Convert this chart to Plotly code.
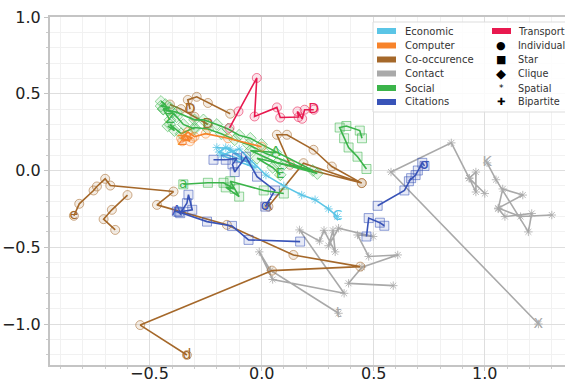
import plotly.graph_objects as go

# ---------------- data ----------------
categories = ["Economic", "Computer", "Co-occurence", "Contact", "Social", "Citations", "Transport"]
colors = {"Economic": "#5bc5e6", "Computer": "#f7832a", "Co-occurence": "#a5682a",
          "Contact": "#a9a9a9", "Social": "#3bb44a", "Citations": "#3853b8",
          "Transport": "#e8194f"}
marker_types = ["Individual", "Star", "Clique", "Spatial", "Bipartite"]
x_tick_values = [-0.5, 0.0, 0.5, 1.0]
x_tick_labels = ["−0.5", "0.0", "0.5", "1.0"]

# Transport (Individual)
transport_x = [-0.143, -0.103, -0.021, -0.031, 0.069, 0.084, 0.166, 0.161, 0.182, 0.193, 0.234]
transport_y = [0.277, 0.385, 0.603, 0.352, 0.411, 0.345, 0.348, 0.385, 0.337, 0.396, 0.396]

# Economic (Spatial)
economic_x = [-0.20, -0.14, -0.05, -0.19, -0.16, -0.03, -0.18, -0.10, 0.02, 0.10, 0.18, 0.24, 0.30, 0.34]
economic_y = [0.15, 0.14, 0.05, 0.12, 0.15, 0.02, 0.10, 0.14, -0.03, -0.10, -0.16, -0.19, -0.25, -0.30]

# Computer (Individual)
computer_x = [0.0, -0.15, -0.25, -0.30, -0.33, -0.36, -0.32, -0.34, -0.31, -0.355]
computer_y = [0.155, 0.21, 0.24, 0.22, 0.25, 0.21, 0.19, 0.23, 0.21, 0.19]

# Co-occurence (Individual)
cooc1_x = [-0.84, -0.816, -0.752, -0.737, -0.70, -0.677, -0.394, -0.468, -0.155, 0.143, 0.442, 0.047, -0.543, -0.334]
cooc1_y = [-0.295, -0.217, -0.13, -0.104, -0.054, -0.098, -0.137, -0.224, -0.354, -0.55, -0.626, -0.652, -1.007, -1.202]
cooc2_x = [-0.60, -0.67, -0.707, -0.655]
cooc2_y = [-0.16, -0.256, -0.317, -0.387]
cooc3_x = [-0.14, -0.24, -0.29, -0.33, -0.32]
cooc3_y = [0.37, 0.44, 0.48, 0.46, 0.40]
cooc4_x = [-0.41, -0.36, -0.30, -0.24]
cooc4_y = [0.43, 0.40, 0.35, 0.30]
cooc5_x = [0.449, 0.315, 0.233, 0.114, 0.069, 0.128, 0.449, 0.188, 0.031]
cooc5_y = [-0.082, 0.026, 0.135, 0.233, 0.233, 0.037, -0.082, 0.048, -0.235]

# Contact (Spatial)
contact1_x = [1.00, 0.93, 0.96, 0.96, 0.93, 0.85, 0.58, 1.24]
contact1_y = [-0.15, -0.05, -0.01, -0.14, -0.05, 0.18, -0.01, -1.0]
contact2_x = [1.30, 1.16, 1.06, 1.17, 1.08, 1.06, 1.09, 1.21, 1.195, 1.05, 1.01]
contact2_y = [-0.29, -0.30, -0.245, -0.16, -0.12, -0.25, -0.30, -0.28, -0.40, -0.06, 0.05]
contact3_x = [0.59, 0.39, 0.45, 0.61, 0.48, 0.43, 0.50, 0.345, 0.30, 0.32, 0.33, 0.28, 0.26,
              0.17, 0.37, 0.05, -0.01, 0.04, 0.345]
contact3_y = [-0.75, -0.735, -0.63, -0.55, -0.56, -0.42, -0.43, -0.376, -0.49, -0.39, -0.53, -0.39, -0.46,
              -0.387, -0.80, -0.71, -0.53, -0.65, -0.93]

# Social (Clique / Star)
social1_x = [-0.45, -0.43, -0.45, -0.41, -0.44, -0.38, -0.30, -0.26, -0.20, -0.15, -0.10, -0.05, 0.0, 0.23, 0.07, -0.05, 0.064]
social1_y = [0.45, 0.43, 0.42, 0.41, 0.40, 0.38, 0.33, 0.33, 0.30, 0.27, 0.23, 0.21, 0.17, 0.0, 0.05, 0.13, 0.117]
social2_x = [-0.42, -0.39, -0.41, -0.36, -0.30, -0.24, -0.18, -0.12, -0.06, 0.02, 0.25, 0.10, -0.02, 0.05, 0.084]
social2_y = [0.29, 0.26, 0.30, 0.24, 0.28, 0.27, 0.24, 0.20, 0.17, 0.11, -0.02, 0.04, 0.08, 0.02, -0.028]
social3_x = [-0.30, -0.35, -0.38, -0.40, -0.44, -0.41]
social3_y = [0.27, 0.30, 0.35, 0.38, 0.40, 0.33]
social4_x = [0.10, 0.01, -0.14, -0.10, -0.16, -0.12, -0.17, -0.24, -0.35]
social4_y = [-0.15, -0.13, -0.07, -0.17, -0.11, -0.12, -0.08, -0.08, -0.09]
social5_x = [0.47, 0.43, 0.39, 0.37, 0.35, 0.38, 0.44, 0.45]
social5_y = [0.01, 0.09, 0.15, 0.21, 0.28, 0.29, 0.26, 0.21]

# Citations (Star)
cit1_x = [0.173, -0.058, -0.132, -0.244, -0.37, -0.31, -0.327, -0.334, -0.364, -0.379]
cit1_y = [-0.463, -0.452, -0.361, -0.333, -0.27, -0.256, -0.158, -0.213, -0.278, -0.267]
cit2_x = [-0.215, -0.16, -0.11, -0.13, -0.12, -0.07, -0.02, 0.06, 0.017]
cit2_y = [0.07, 0.07, 0.08, 0.04, -0.01, 0.09, -0.04, -0.13, -0.235]
cit3_x = [0.52, 0.64, 0.67, 0.66, 0.69, 0.70, 0.72, 0.73]
cit3_y = [-0.23, -0.13, -0.05, -0.07, -0.03, 0.0, 0.05, 0.03]
cit4_x = [0.47, 0.48, 0.53, 0.55]
cit4_y = [-0.43, -0.31, -0.34, -0.36]

# (category, marker type, x, y, end label)
trajectories = [
    ("Contact", "Spatial", contact3_x, contact3_y, "t"),
    ("Contact", "Spatial", contact1_x, contact1_y, "X"),
    ("Contact", "Spatial", contact2_x, contact2_y, "K"),
    ("Co-occurence", "Individual", cooc1_x, cooc1_y, "d"),
    ("Co-occurence", "Individual", cooc2_x, cooc2_y, ""),
    ("Co-occurence", "Individual", cooc3_x, cooc3_y, "D"),
    ("Co-occurence", "Individual", cooc4_x, cooc4_y, "D"),
    ("Co-occurence", "Individual", cooc5_x, cooc5_y, "ʎ"),
    ("Economic", "Spatial", economic_x, economic_y, "C"),
    ("Citations", "Star", cit1_x, cit1_y, "A"),
    ("Citations", "Star", cit2_x, cit2_y, "σ"),
    ("Citations", "Star", cit3_x, cit3_y, "σ"),
    ("Citations", "Star", cit4_x, cit4_y, ""),
    ("Social", "Clique", social1_x, social1_y, "A"),
    ("Social", "Clique", social2_x, social2_y, "E"),
    ("Social", "Clique", social3_x, social3_y, "Z"),
    ("Social", "Star", social4_x, social4_y, "a"),
    ("Social", "Star", social5_x, social5_y, ""),
    ("Computer", "Individual", computer_x, computer_y, "Z"),
    ("Transport", "Individual", transport_x, transport_y, "D"),
]
start_labels = {("Co-occurence", 0): "e"}

symbols = {"Individual": "circle", "Star": "square", "Clique": "diamond",
           "Spatial": "asterisk-open", "Bipartite": "cross-thin-open"}


def rgba(hexc, a):
    h = hexc.lstrip("#")
    r, g, b = int(h[0:2], 16), int(h[2:4], 16), int(h[4:6], 16)
    return f"rgba({r},{g},{b},{a})"


fig = go.Figure()
count = {}
for cat, mtype, xs, ys, lab in trajectories:
    c = colors[cat]
    sym = symbols[mtype]
    if mtype == "Spatial":
        mk = dict(symbol=sym, size=7, color=rgba(c, 0.8), line=dict(width=1, color=rgba(c, 0.8)))
    else:
        mk = dict(symbol=sym, size=9, color=rgba(c, 0.12), line=dict(width=1, color=rgba(c, 0.55)))
    fig.add_trace(go.Scatter(x=xs, y=ys, mode="lines+markers",
                             line=dict(color=c, width=1.6), marker=mk,
                             showlegend=False, hoverinfo="skip"))
    if lab:
        fig.add_trace(go.Scatter(x=[xs[-1]], y=[ys[-1]], mode="text", text=[lab],
                                 textfont=dict(color=c, size=14, family="DejaVu Sans"),
                                 showlegend=False, hoverinfo="skip"))
    k = count.get(cat, 0)
    count[cat] = k + 1
    if (cat, k) in start_labels:
        fig.add_trace(go.Scatter(x=[xs[0]], y=[ys[0]], mode="text", text=[start_labels[(cat, k)]],
                                 textfont=dict(color=c, size=14, family="DejaVu Sans"),
                                 showlegend=False, hoverinfo="skip"))

# ---------------- layout ----------------
W, H = 565, 380
ML, MR, MT, MB = 50, 0, 17, 15
PW, PH = W - ML - MR, H - MT - MB


def px(xp):
    return (xp - ML) / PW


def py(yp):
    return 1 - (yp - MT) / PH


shapes = [dict(type="rect", xref="paper", yref="paper", x0=px(373), x1=px(570), y0=py(22), y1=py(112),
               fillcolor="rgba(255,255,255,0.85)", line=dict(color="#dddddd", width=1), layer="above")]
annotations = []
rows = [31, 45.5, 59.5, 73.5, 88, 102]
col1 = ["Economic", "Computer", "Co-occurence", "Contact", "Social", "Citations"]
for r, name in zip(rows, col1):
    shapes.append(dict(type="rect", xref="paper", yref="paper", x0=px(377), x1=px(396),
                       y0=py(r - 3), y1=py(r + 3), fillcolor=colors[name], line=dict(width=0), layer="above"))
    annotations.append(dict(x=px(403), y=py(r), xref="paper", yref="paper", text=name, showarrow=False,
                            xanchor="left", yanchor="middle", font=dict(size=10, color="#333", family="DejaVu Sans")))
# column 2
shapes.append(dict(type="rect", xref="paper", yref="paper", x0=px(492), x1=px(511),
                   y0=py(rows[0] - 3), y1=py(rows[0] + 3), fillcolor=colors["Transport"], line=dict(width=0), layer="above"))
annotations.append(dict(x=px(516), y=py(rows[0]), xref="paper", yref="paper", text="Transport", showarrow=False,
                        xanchor="left", yanchor="middle", font=dict(size=9.7, color="#333", family="DejaVu Sans")))
glyphs = {"Individual": ("●", 11), "Star": ("■", 11), "Clique": ("◆", 13), "Spatial": ("*", 9), "Bipartite": ("✚", 10)}
for r, name in zip(rows[1:], marker_types):
    g, s = glyphs[name]
    annotations.append(dict(x=px(501), y=py(r), xref="paper", yref="paper", text=g, showarrow=False,
                            xanchor="center", yanchor="middle", font=dict(size=s, color="#000", family="DejaVu Sans")))
    annotations.append(dict(x=px(516), y=py(r), xref="paper", yref="paper", text=name, showarrow=False,
                            xanchor="left", yanchor="middle", font=dict(size=9.7, color="#333", family="DejaVu Sans")))

# x tick labels placed just under the bottom spine (as in the reference)
for tv, tl in zip(x_tick_values, x_tick_labels):
    annotations.append(dict(x=tv, xref="x", y=py(363), yref="paper", text=tl, showarrow=False,
                            xanchor="center", yanchor="top", borderpad=0,
                            font=dict(size=16, color="#222", family="DejaVu Sans")))

axis_common = dict(showgrid=True, gridcolor="#dedede", gridwidth=1, zeroline=False,
                   showline=True, linecolor="#c4c4c4", linewidth=2, automargin=False,
                   ticks="outside", ticklen=4, tickcolor="#c4c4c4", dtick=0.5, tick0=0,
                   tickformat=".1f", tickfont=dict(size=16, color="#222", family="DejaVu Sans"),
                   minor=dict(dtick=0.1, showgrid=True, gridcolor="#f1f1f1", ticks="outside",
                              ticklen=2, tickcolor="#cccccc"))

fig.update_layout(
    width=W, height=H, margin=dict(l=ML, r=MR, t=MT, b=MB),
    paper_bgcolor="white", plot_bgcolor="white",
    xaxis=dict(range=[-0.947, 1.359], mirror=True, showticklabels=False, **axis_common),
    yaxis=dict(range=[-1.267, 1.0], **axis_common),
    shapes=shapes, annotations=annotations, showlegend=False,
)

fig.write_html("out.html")
